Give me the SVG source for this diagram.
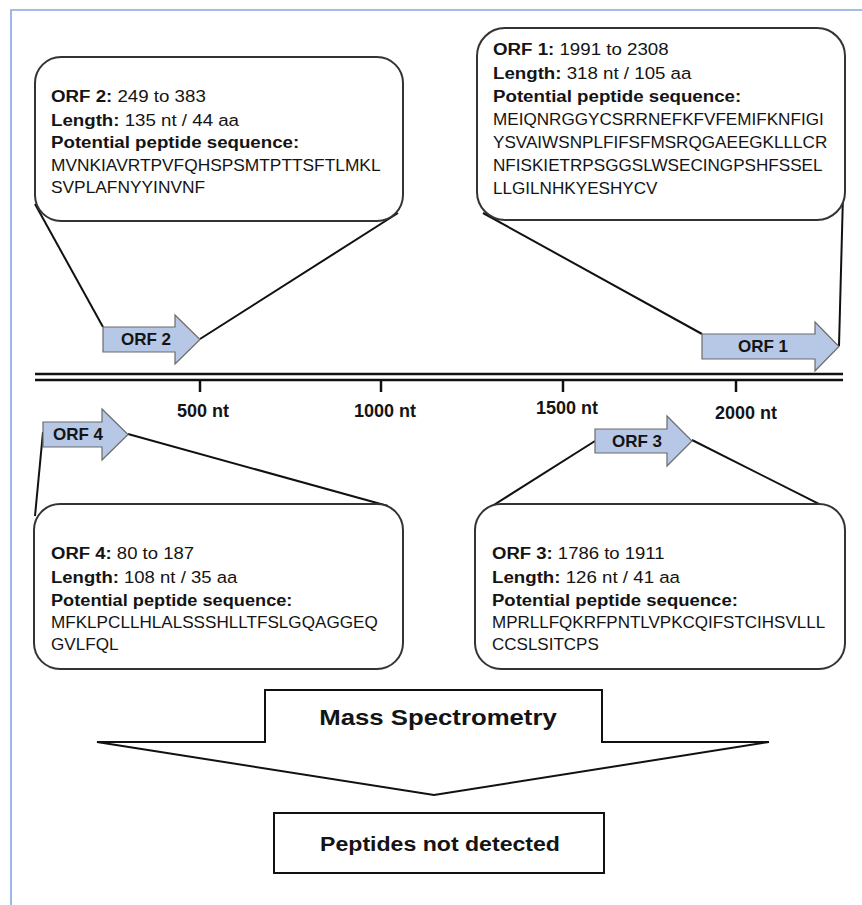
<svg xmlns="http://www.w3.org/2000/svg" width="862" height="905" viewBox="0 0 862 905">
<style>
  text { font-family: "Liberation Sans", Arial, sans-serif; fill: #141414; }
  .t { font-size: 17px; }
  .b { font-weight: bold; }
  .box { fill: #fff; stroke: #333; stroke-width: 2; }
  .tail { stroke: #111; stroke-width: 2; fill: none; }
  .orf { fill: #b6c8e6; stroke: #6b6b6b; stroke-width: 1.2; }
  .orfl { font-size: 17px; font-weight: bold; text-anchor: middle; }
  .tick { font-size: 18px; font-weight: bold; text-anchor: middle; }
  .axis { stroke: #111; stroke-width: 2.5; fill: none; }
  .flow { fill: #fff; stroke: #111; stroke-width: 2; }
</style>
<rect width="862" height="905" fill="#fff"/>
<path d="M11,905 V10 H862" fill="none" stroke="#86a6e0" stroke-width="1.6"/>

<g id="connectors">
  <line class="tail" x1="35" y1="204" x2="103" y2="327"/>
  <line class="tail" x1="398" y1="213" x2="200" y2="339"/>
  <line class="tail" x1="483" y1="213" x2="702" y2="334"/>
  <line class="tail" x1="843" y1="195" x2="839" y2="346"/>
  <line class="tail" x1="43" y1="432" x2="35" y2="516"/>
  <line class="tail" x1="128" y1="434" x2="388" y2="506"/>
  <line class="tail" x1="595" y1="441" x2="489" y2="508"/>
  <line class="tail" x1="692" y1="440" x2="833" y2="511"/>
</g>

<g id="axis">
  <line class="axis" x1="35" y1="374" x2="843" y2="374"/>
  <line class="axis" x1="35" y1="380" x2="843" y2="380"/>
  <line class="axis" x1="200" y1="380" x2="200" y2="392"/>
  <line class="axis" x1="381" y1="380" x2="381" y2="392"/>
  <line class="axis" x1="563" y1="380" x2="563" y2="392"/>
  <line class="axis" x1="736" y1="380" x2="736" y2="392"/>
  <text class="tick" x="203" y="417">500 nt</text>
  <text class="tick" x="385" y="417">1000 nt</text>
  <text class="tick" x="567" y="414">1500 nt</text>
  <text class="tick" x="746" y="419">2000 nt</text>
</g>

<g id="orf2-box">
  <rect class="box" x="35" y="57" width="368" height="164" rx="26"/>
  <text class="t" transform="translate(51 102) scale(1.1 1)"><tspan class="b">ORF 2:</tspan> 249 to 383</text>
  <text class="t" transform="translate(51 126) scale(1.1 1)"><tspan class="b">Length:</tspan> 135 nt / 44 aa</text>
  <text class="t b" transform="translate(51 148) scale(1.1 1)">Potential peptide sequence:</text>
  <text class="t" transform="translate(51 171) scale(1.02 1)">MVNKIAVRTPVFQHSPSMTPTTSFTLMKL</text>
  <text class="t" transform="translate(51 193) scale(1.02 1)">SVPLAFNYYINVNF</text>
</g>

<g id="orf1-box">
  <rect class="box" x="477" y="28" width="368" height="192" rx="28"/>
  <text class="t" transform="translate(493 55) scale(1.1 1)"><tspan class="b">ORF 1:</tspan> 1991 to 2308</text>
  <text class="t" transform="translate(493 79) scale(1.1 1)"><tspan class="b">Length:</tspan> 318 nt / 105 aa</text>
  <text class="t b" transform="translate(493 102) scale(1.1 1)">Potential peptide sequence:</text>
  <text class="t" transform="translate(493 125) scale(1.007 1)">MEIQNRGGYCSRRNEFKFVFEMIFKNFIGI</text>
  <text class="t" transform="translate(493 148) scale(1.007 1)">YSVAIWSNPLFIFSFMSRQGAEEGKLLLCR</text>
  <text class="t" transform="translate(493 171) scale(1.007 1)">NFISKIETRPSGGSLWSECINGPSHFSSEL</text>
  <text class="t" transform="translate(493 194) scale(1.007 1)">LLGILNHKYESHYCV</text>
</g>

<g id="orf4-box">
  <rect class="box" x="34" y="504" width="369" height="165" rx="26"/>
  <text class="t" transform="translate(51 559) scale(1.09 1)"><tspan class="b">ORF 4:</tspan> 80 to 187</text>
  <text class="t" transform="translate(51 583) scale(1.09 1)"><tspan class="b">Length:</tspan> 108 nt / 35 aa</text>
  <text class="t b" transform="translate(51 606) scale(1.07 1)">Potential peptide sequence:</text>
  <text class="t" transform="translate(51 628) scale(1.007 1)">MFKLPCLLHLALSSSHLLTFSLGQAGGEQ</text>
  <text class="t" transform="translate(51 650) scale(1.007 1)">GVLFQL</text>
</g>

<g id="orf3-box">
  <rect class="box" x="475" y="504" width="370" height="165" rx="26"/>
  <text class="t" transform="translate(492 559) scale(1.09 1)"><tspan class="b">ORF 3:</tspan> 1786 to 1911</text>
  <text class="t" transform="translate(492 583) scale(1.1 1)"><tspan class="b">Length:</tspan> 126 nt / 41 aa</text>
  <text class="t b" transform="translate(492 606) scale(1.09 1)">Potential peptide sequence:</text>
  <text class="t" transform="translate(492 628) scale(1.0 1)">MPRLLFQKRFPNTLVPKCQIFSTCIHSVLLL</text>
  <text class="t" transform="translate(492 650) scale(1.0 1)">CCSLSITCPS</text>
</g>

<g id="orf2-arrow">
  <path class="orf" d="M103,327 H175 V315 L200,339.5 L175,364 V352 H103 Z"/>
  <text class="orfl" x="146" y="345">ORF 2</text>
</g>
<g id="orf1-arrow">
  <path class="orf" d="M702,334 H815 V322 L839,346.5 L815,371 V359 H702 Z"/>
  <text class="orfl" x="763" y="352">ORF 1</text>
</g>
<g id="orf4-arrow">
  <path class="orf" d="M43,422 H102 V409 L128,434.5 L102,460 V447 H43 Z"/>
  <text class="orfl" x="78" y="440">ORF 4</text>
</g>
<g id="orf3-arrow">
  <path class="orf" d="M595,429 H667 V416 L692,441 L667,466 V453 H595 Z"/>
  <text class="orfl" x="637" y="447">ORF 3</text>
</g>

<g id="mass-spectrometry">
  <path class="flow" d="M265,690 H602 V742 H769 L434,795 L97,742 H265 Z"/>
  <text class="b" font-size="23" text-anchor="middle" transform="translate(438 725) scale(1.12 1)">Mass Spectrometry</text>
</g>

<g id="peptides-not-detected">
  <rect class="flow" x="274" y="813" width="330" height="60"/>
  <text class="b" font-size="21" text-anchor="middle" transform="translate(440 851) scale(1.1 1)">Peptides not detected</text>
</g>
</svg>
